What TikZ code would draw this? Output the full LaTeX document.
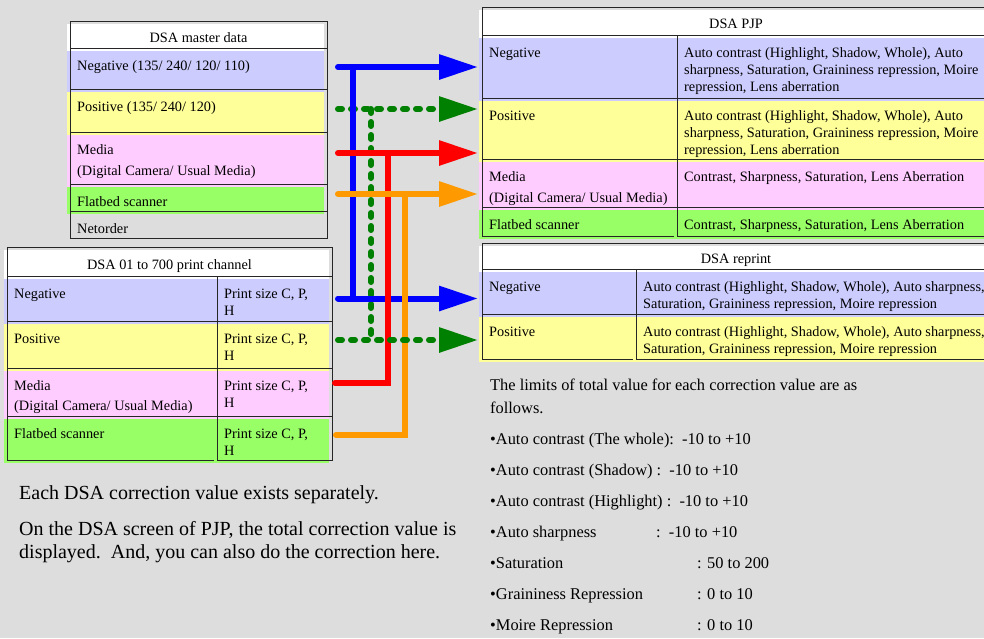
\documentclass[tikz,border=0pt]{standalone}
\usepackage{fontspec}
\setmainfont{Liberation Serif}
\usetikzlibrary{arrows.meta}

\definecolor{bgray}{HTML}{DDDDDD}
\definecolor{negblue}{HTML}{CCCCFF}
\definecolor{posyellow}{HTML}{FFFF99}
\definecolor{medpink}{HTML}{FFCCFF}
\definecolor{flatgreen}{HTML}{99FF66}
\definecolor{linegreen}{HTML}{008000}
\definecolor{lineorange}{HTML}{FF9900}

\tikzset{
  cell/.style={draw=black!85, line width=1pt, anchor=north west, inner sep=0pt, outer sep=0pt},
  celltext/.style={anchor=north west, align=left, inner sep=0pt, font=\fontsize{14.3}{17}\selectfont},
  flow/.style={line width=6pt, line cap=round},
  dotflow/.style={dash pattern=on 4pt off 9pt},
  tip/.style={-{Triangle[length=39pt,width=24pt]}, shorten >=4pt},
  note/.style={anchor=north west, align=left, inner sep=0pt},
}

% name, x, y, width, height, colour, text
\newcommand\tcell[7]{%
  \fill[#6] (#2-3.5,#3+2.5) rectangle ++(#4,#5);
  \node[cell, minimum width=#4pt, minimum height=#5pt] (#1) at (#2,#3) {};
  \node[celltext] (#1-t) at ([xshift=7pt,yshift=-11pt]#1.north west) {\rule{0pt}{11pt}#7};
}
% name, x, y, width, height, title
\newcommand\thead[6]{%
  \fill[white] (#2-3.5,#3+2.5) rectangle ++(#4,#5);
  \node[cell, minimum width=#4pt, minimum height=#5pt, text height=17pt, text depth=2pt,
    font=\fontsize{14.3}{17}\selectfont] (#1) at (#2,#3) {#6};
}

\begin{document}
\begin{tikzpicture}[x=1pt, y=-1pt]
\useasboundingbox (0,0) rectangle (984,638);
\fill[bgray] (0,0) rectangle (984,638);

\thead{mHead}{70}{21}{257}{27}{DSA master data}
\tcell{mNeg}{70}{48}{257}{41}{negblue}{Negative (135/ 240/ 120/ 110)}
\tcell{mPos}{70}{89}{257}{43}{posyellow}{Positive (135/ 240/ 120)}
\tcell{mMed}{70}{132}{257}{52}{medpink}{Media\\[4pt](Digital Camera/ Usual Media)}
\tcell{mFlat}{70}{184}{257}{27}{flatgreen}{Flatbed scanner}
\tcell{mNet}{70}{211}{257}{27}{bgray}{Netorder}

\thead{cHead}{7}{247}{325}{29}{DSA 01 to 700 print channel}
\tcell{cNeg}{7}{276}{210}{45}{negblue}{Negative}
\tcell{cNegR}{217}{276}{115}{45}{negblue}{Print size C, P,\\H}
\tcell{cPos}{7}{321}{210}{47}{posyellow}{Positive}
\tcell{cPosR}{217}{321}{115}{47}{posyellow}{Print size C, P,\\H}
\tcell{cMed}{7}{368}{210}{48}{medpink}{Media\\[3pt](Digital Camera/ Usual Media)}
\tcell{cMedR}{217}{368}{115}{48}{medpink}{Print size C, P,\\H}
\tcell{cFlat}{7}{416}{210}{44}{flatgreen}{Flatbed scanner}
\tcell{cFlatR}{217}{416}{115}{44}{flatgreen}{Print size C, P,\\H}

\thead{pHead}{482}{7}{508}{28}{DSA PJP}
\tcell{pNeg}{482}{35}{195}{63}{negblue}{Negative}
\tcell{pNegR}{677}{35}{313}{63}{negblue}{Auto contrast (Highlight, Shadow, Whole), Auto\\sharpness, Saturation, Graininess repression, Moire\\repression, Lens aberration}
\tcell{pPos}{482}{98}{195}{61}{posyellow}{Positive}
\tcell{pPosR}{677}{98}{313}{61}{posyellow}{Auto contrast (Highlight, Shadow, Whole), Auto\\sharpness, Saturation, Graininess repression, Moire\\repression, Lens aberration}
\tcell{pMed}{482}{159}{195}{48}{medpink}{Media\\[4pt](Digital Camera/ Usual Media)}
\tcell{pMedR}{677}{159}{313}{48}{medpink}{Contrast, Sharpness, Saturation, Lens Aberration}
\tcell{pFlat}{482}{207}{195}{29}{flatgreen}{Flatbed scanner}
\tcell{pFlatR}{677}{207}{313}{29}{flatgreen}{Contrast, Sharpness, Saturation, Lens Aberration}

\thead{rHead}{482}{243}{508}{26}{DSA reprint}
\tcell{rNeg}{482}{269}{154}{45}{negblue}{Negative}
\tcell{rNegR}{636}{269}{354}{45}{negblue}{Auto contrast (Highlight, Shadow, Whole), Auto sharpness,\\Saturation, Graininess repression, Moire repression}
\tcell{rPos}{482}{314}{154}{45}{posyellow}{Positive}
\tcell{rPosR}{636}{314}{354}{45}{posyellow}{Auto contrast (Highlight, Shadow, Whole), Auto sharpness,\\Saturation, Graininess repression, Moire repression}

\coordinate (mNegOut) at ([xshift=11pt,yshift=1.5pt]mNeg.east);
\coordinate (mPosOut) at ([xshift=11pt,yshift=1.5pt]mPos.east);
\coordinate (mMedOut) at ([xshift=11pt,yshift=5pt]mMed.east);
\coordinate (mFlatOut) at ([xshift=11pt,yshift=3.5pt]mFlat.east);
\coordinate (cNegOut) at ([xshift=6pt]cNegR.east);
\coordinate (cPosOut) at ([xshift=6pt,yshift=4.5pt]cPosR.east);
\coordinate (cMedOut) at ([xshift=3pt,yshift=9pt]cMedR.east);
\coordinate (cFlatOut) at ([xshift=4pt,yshift=3pt]cFlatR.east);
\coordinate (sBlue) at (353,0);
\coordinate (sGreen) at (371,0);
\coordinate (sRed) at (388,0);
\coordinate (sOrange) at (405,0);

\draw[flow, linegreen, dotflow] (sGreen |- mPosOut) -- (sGreen |- cPosOut);
\draw[flow, linegreen, dotflow, tip] (mPosOut) -- (mPosOut -| pPos.west);
\draw[flow, blue] (sBlue |- mNegOut) -- (sBlue |- cNegOut);
\draw[flow, blue, tip] (mNegOut) -- (mNegOut -| pNeg.west);
\draw[flow, blue, tip] (cNegOut) -- (cNegOut -| rNeg.west);
\draw[flow, red] (cMedOut) -- (sRed |- cMedOut) -- (sRed |- mMedOut);
\draw[flow, red, tip] (mMedOut) -- (mMedOut -| pMed.west);
\draw[flow, lineorange] (cFlatOut) -- (sOrange |- cFlatOut) -- (sOrange |- mFlatOut);
\draw[flow, lineorange, tip] (mFlatOut) -- (mFlatOut -| pFlat.west);
\draw[flow, linegreen, dotflow, tip] (cPosOut) -- (cPosOut -| rPos.west);

\node[note, font=\fontsize{20}{23}\selectfont] (sepNote) at (19,485)
  {Each DSA correction value exists separately.\\[13pt]
   On the DSA screen of PJP, the total correction value is\\
   displayed.\ \ And, you can also do the correction here.};

\node[note, font=\fontsize{16.4}{23}\selectfont] (limits) at (490,379)
  {The limits of total value for each correction value are as\\
   follows.\\[8pt]
   •Auto contrast (The whole):\ \ -10 to +10\\[8pt]
   •Auto contrast (Shadow) :\ \ -10 to +10\\[8pt]
   •Auto contrast (Highlight) :\ \ -10 to +10\\[8pt]
   \makebox[166pt][l]{•Auto sharpness}:\ \ -10 to +10\\[8pt]
   \makebox[207pt][l]{•Saturation}: 50 to 200\\[8pt]
   \makebox[207pt][l]{•Graininess Repression}: 0 to 10\\[8pt]
   \makebox[207pt][l]{•Moire Repression}: 0 to 10};
\end{tikzpicture}
\end{document}
